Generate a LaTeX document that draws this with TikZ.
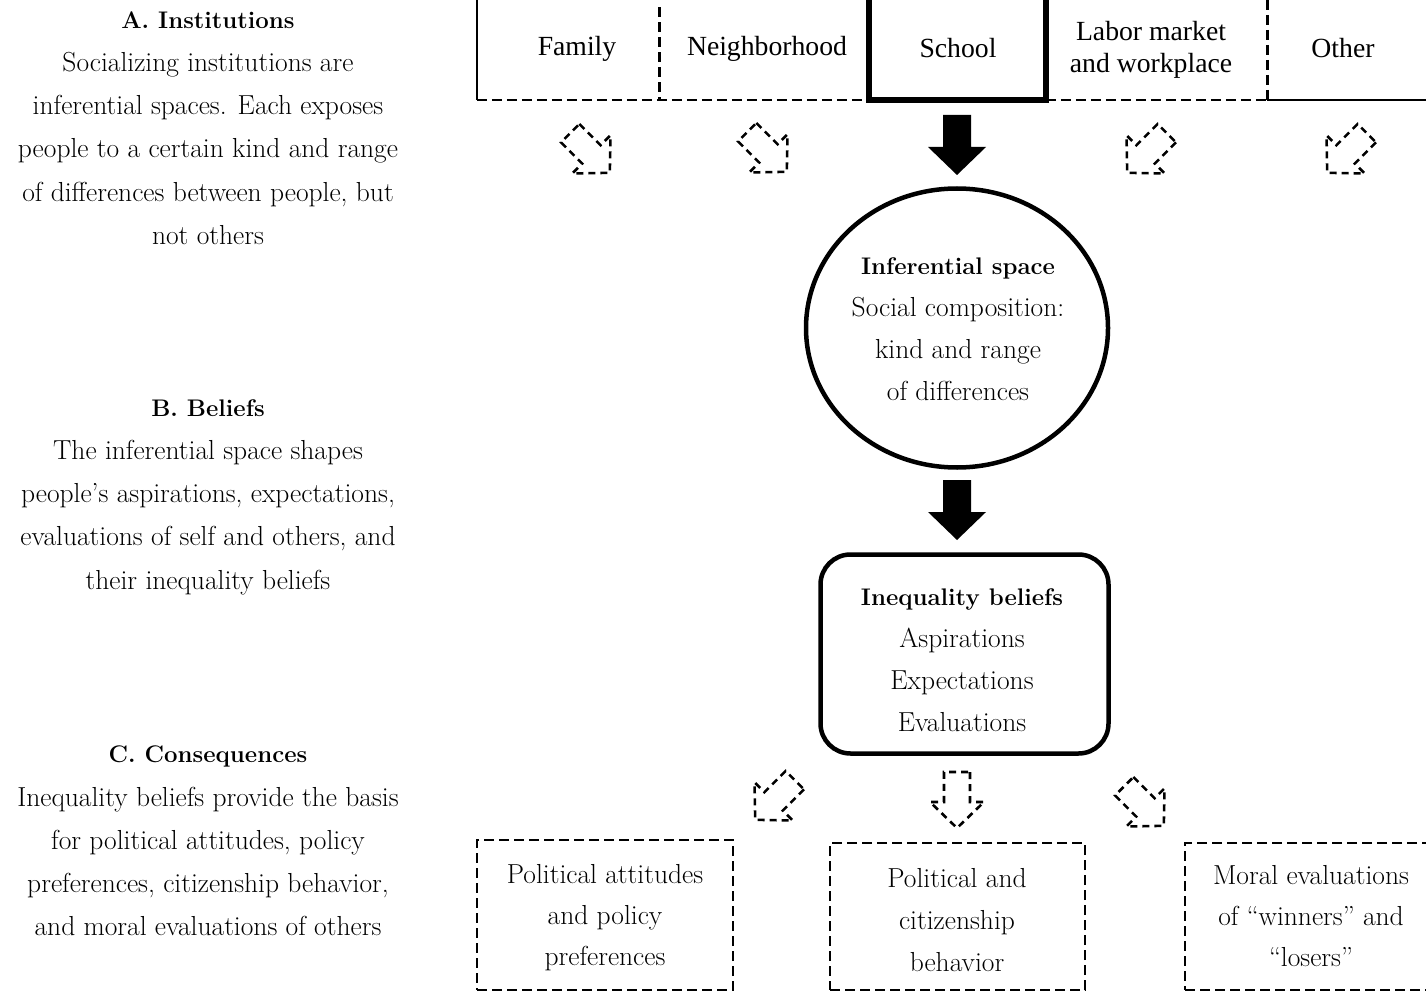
\documentclass[tikz,border=0pt]{standalone}
\usepackage{fontspec}
\newfontfamily\tnrfont{Liberation Serif}[Ligatures=TeX]
\usetikzlibrary{shapes.geometric}
\newcommand{\hd}[1]{{\fontsize{24}{43}\selectfont\bfseries #1}}
\tikzset{
  thinb/.style={line width=2.6pt},
  dashb/.style={line width=2.6pt, dash pattern=on 10pt off 5pt},
  toptext/.style={font=\tnrfont\fontsize{27.7}{32}\selectfont, align=center, inner sep=0pt},
  pal/.style={font=\fontsize{27.5}{42}\selectfont, align=center, inner sep=0pt},
  palL/.style={font=\fontsize{27.5}{43.2}\selectfont, align=center, inner sep=0pt},
  solidarrow/.pic={\fill[black] (-30,-14) -- (2,-14) -- (2,-29) -- (30,0) -- (2,29) -- (2,14) -- (-30,14) -- cycle;},
  dasharrow/.pic={\draw[line width=2.6pt, dash pattern=on 7pt off 5pt] (-28,-13) -- (2,-13) -- (2,-27) -- (28,0) -- (2,27) -- (2,13) -- (-28,13) -- cycle;},
}
\begin{document}
\begin{tikzpicture}[x=1pt,y=-1pt]
\useasboundingbox[fill=white] (0,0) rectangle (1426,992);

% ---------- left column ----------
\node[palL] (ta) at (208,128) {\hd{A. Institutions}\\Socializing institutions are\\inferential spaces. Each exposes\\people to a certain kind and range\\of differences between people, but\\not others};
\node[palL] (tb) at (208,497) {\hd{B. Beliefs}\\The inferential space shapes\\people's aspirations, expectations,\\evaluations of self and others, and\\their inequality beliefs};
\node[palL] (tc) at (208,841) {\hd{C. Consequences}\\Inequality beliefs provide the basis\\for political attitudes, policy\\preferences, citizenship behavior,\\and moral evaluations of others};

% ---------- top row of institutions ----------
\node[minimum width=182pt, minimum height=130pt, inner sep=0pt] (family) at (568,35) {};
\node[minimum width=210pt, minimum height=130pt, inner sep=0pt] (neigh) at (764,35) {};
\node[minimum width=176pt, minimum height=130pt, inner sep=0pt] (school) at (957.5,35) {};
\node[minimum width=221pt, minimum height=130pt, inner sep=0pt] (labor) at (1156.5,35) {};
\node[minimum width=170pt, minimum height=130pt, inner sep=0pt] (other) at (1352,35) {};

\draw[thinb] (family.north west) -- (family.south west);
\draw[dashb] (family.south west) -- (neigh.south east);
\draw[dashb] ([yshift=93pt]family.south east) -- (family.south east);
\draw[line width=6pt] (school.north west) -- (school.south west) -- (school.south east) -- (school.north east);
\draw[dashb] (labor.south west) -- (labor.south east);
\draw[dashb] (labor.north east) -- (labor.south east);
\draw[thinb] (other.south west) -- (other.south east);

\node[toptext] (lfam) at (577,49) {Family};
\node[toptext] (lnei) at (767,49) {Neighborhood};
\node[toptext] (lsch) at (958,48) {School};
\node[toptext] (llab) at (1151,50) {Labor market\\and workplace};
\node[toptext] (loth) at (1343,48) {Other};

% arrows below institutions
\pic[rotate=-45] at (590,153) {dasharrow};
\pic[rotate=-45] at (767,152) {dasharrow};
\pic[rotate=-90] at (957,145) {solidarrow};
\pic[rotate=-135] at (1147,153) {dasharrow};
\pic[rotate=-135] at (1347,153) {dasharrow};

% ---------- inferential space ----------
\node[draw, line width=4.5pt, ellipse, minimum width=302pt, minimum height=279pt, inner sep=0pt] (space) at (957,328) {};
\node[pal] (lspace) at (958,329) {\hd{Inferential space}\\Social composition:\\kind and range\\of differences};

\pic[rotate=-90] at (957,510) {solidarrow};

% ---------- inequality beliefs ----------
\node[draw, line width=4.5pt, rounded corners=30pt, minimum width=288pt, minimum height=199pt, inner sep=0pt] (beliefs) at (964.5,654) {};
\node[pal] (lbel) at (962,660.5) {\hd{Inequality beliefs}\\Aspirations\\Expectations\\Evaluations};

% arrows below beliefs
\pic[rotate=-135] at (775,800) {dasharrow};
\pic[rotate=-90] at (957,800) {dasharrow};
\pic[rotate=-45] at (1144,806) {dasharrow};

% ---------- consequences ----------
\node[draw, dashb, minimum width=256pt, minimum height=150pt, inner sep=0pt] (c1) at (605,915) {};
\node[draw, dashb, minimum width=255pt, minimum height=147pt, inner sep=0pt] (c2) at (957.5,916.5) {};
\node[draw, dashb, minimum width=260pt, minimum height=147pt, inner sep=0pt] (c3) at (1315,916.5) {};
\node[pal, font=\fontsize{27.5}{41}\selectfont] (lc1) at (605,918) {Political attitudes\\and policy\\preferences};
\node[pal, font=\fontsize{27.5}{42}\selectfont] (lc2) at (957,920) {Political and\\citizenship\\behavior};
\node[pal, font=\fontsize{27.5}{41}\selectfont] (lc3) at (1311,916) {Moral evaluations\\of ``winners'' and\\``losers''};
\end{tikzpicture}
\end{document}
